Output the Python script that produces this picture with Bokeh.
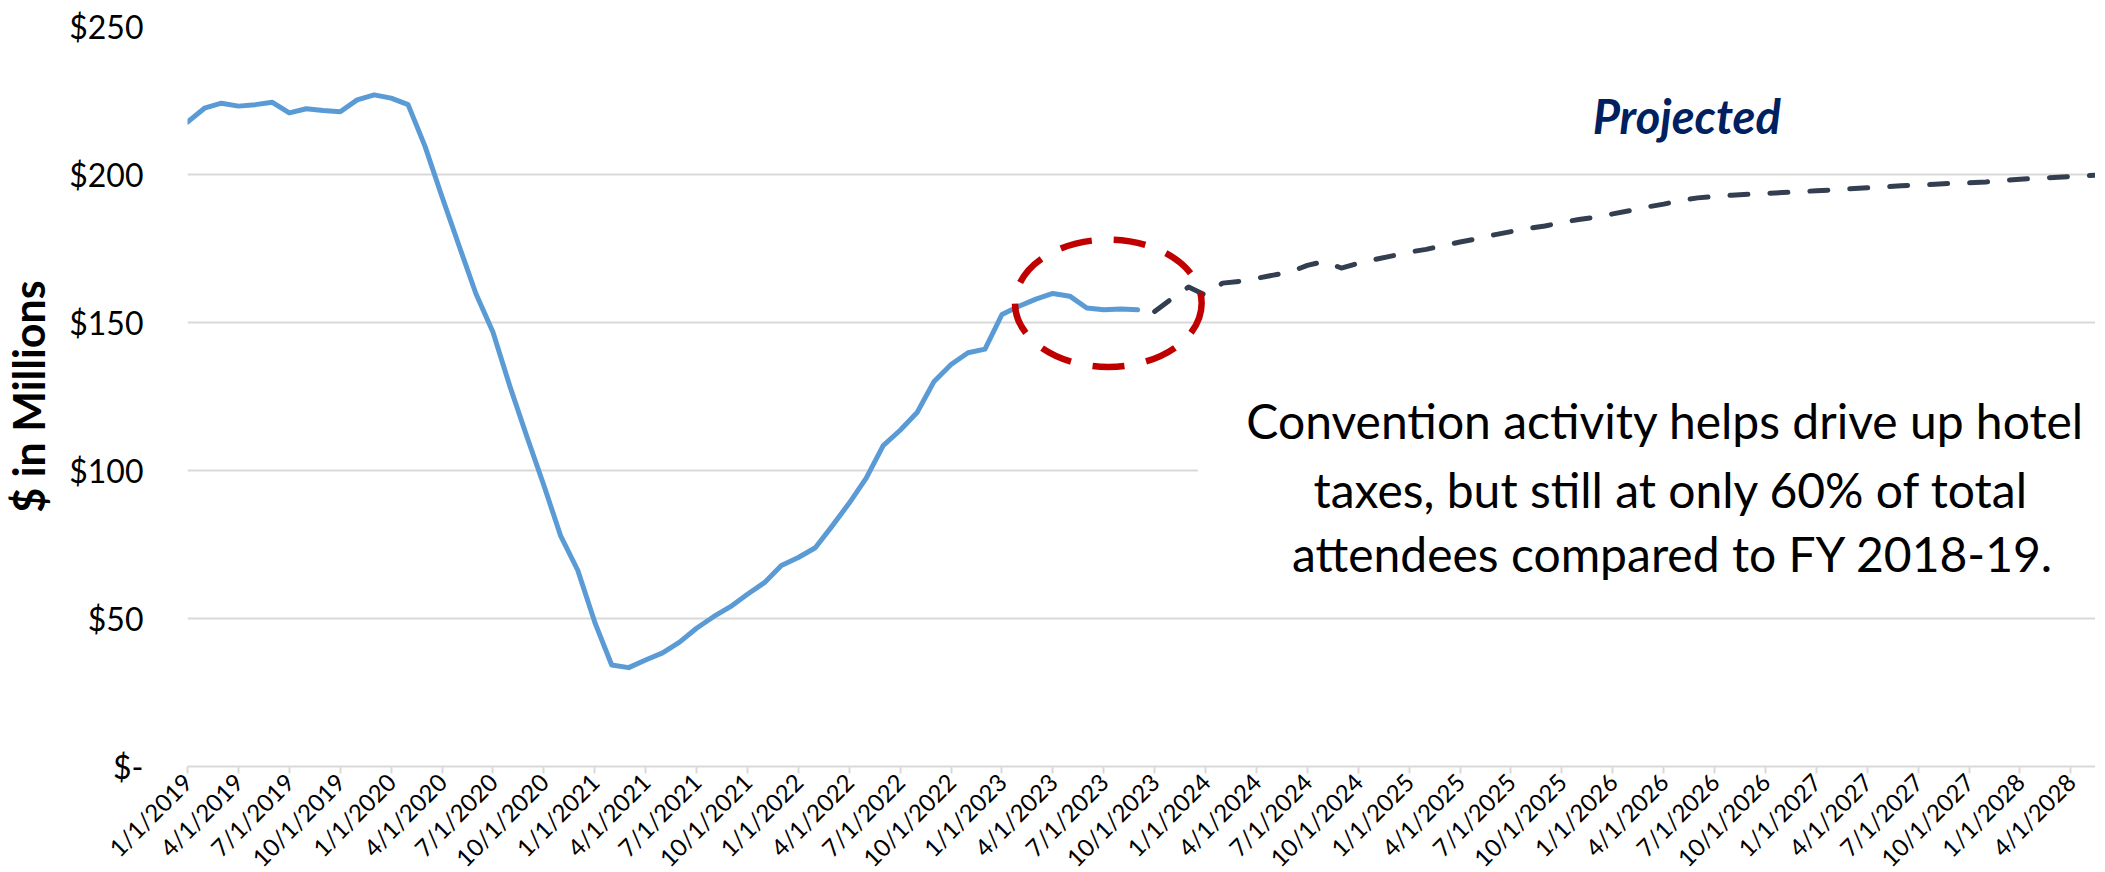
import math
from bokeh.plotting import figure
from bokeh.models import Range1d, FixedTicker, Label
from bokeh.embed import file_html
from bokeh.resources import INLINE

# ---------------- data ----------------
# monthly hotel tax ($ millions), actual: Jan 2019 .. Sep 2023
actual_values = [
    217.7, 222.4, 224.1, 223.1, 223.6, 224.4, 220.8, 222.2, 221.6, 221.2, 225.2, 226.9,
    225.8, 223.6, 209.5, 192.5, 176.0, 159.7, 146.8, 128.5, 111.5, 95.0, 77.8, 66.3,
    48.8, 34.3, 33.4, 36.0, 38.4, 42.0, 46.7, 50.6, 54.0, 58.2, 62.1, 67.9,
    70.6, 73.9, 81.3, 89.0, 97.4, 108.4, 113.6, 119.6, 130.1, 135.8, 139.8, 141.0,
    152.7, 155.5, 157.9, 159.8, 158.9, 154.9, 154.3, 154.6, 154.3,
]
# projected: Oct 2023 .. Jun 2028
projected_values = [
    153.7, 158.0, 162.0, 159.2, 163.3, 163.9, 164.9, 166.0, 167.1, 169.3, 170.6, 168.4,
    170.0, 171.3, 172.5, 173.8, 174.7, 176.0, 177.2, 178.3, 179.6, 180.7, 181.8, 182.6,
    183.8, 184.8, 185.6, 186.7, 187.8, 189.0, 190.0, 191.2, 192.1, 192.6, 193.0, 193.3,
    193.6, 193.9, 194.2, 194.5, 194.8, 195.2, 195.5, 195.8, 196.2, 196.4, 196.7, 197.0,
    197.2, 197.5, 198.0, 198.4, 198.7, 199.0, 199.3, 199.6, 200.0,
]
x_tick_labels = [
    "1/1/2019", "4/1/2019", "7/1/2019", "10/1/2019",
    "1/1/2020", "4/1/2020", "7/1/2020", "10/1/2020",
    "1/1/2021", "4/1/2021", "7/1/2021", "10/1/2021",
    "1/1/2022", "4/1/2022", "7/1/2022", "10/1/2022",
    "1/1/2023", "4/1/2023", "7/1/2023", "10/1/2023",
    "1/1/2024", "4/1/2024", "7/1/2024", "10/1/2024",
    "1/1/2025", "4/1/2025", "7/1/2025", "10/1/2025",
    "1/1/2026", "4/1/2026", "7/1/2026", "10/1/2026",
    "1/1/2027", "4/1/2027", "7/1/2027", "10/1/2027",
    "1/1/2028", "4/1/2028",
]
y_ticks = [0, 50, 100, 150, 200, 250]
y_tick_labels = ["$-", "$50", "$100", "$150", "$200", "$250"]

note_lines = [
    "Convention activity helps drive up hotel",
    "taxes, but still at only 60% of total",
    "attendees compared to FY 2018-19.",
]
projected_label = "Projected"

# ---------------- figure ----------------
actual_x = list(range(len(actual_values)))
proj_x = list(range(len(actual_values), len(actual_values) + len(projected_values)))
x_ticks = [3 * i for i in range(len(x_tick_labels))]

p = figure(
    frame_width=1908, frame_height=740, output_backend="svg", toolbar_location=None,
    x_range=Range1d(0, 112.45), y_range=Range1d(0, 250),
    min_border_left=181, min_border_right=0, min_border_top=26, min_border_bottom=90,
)
p.outline_line_color = None
p.background_fill_color = "white"
p.border_fill_color = "white"

FONT = "Lato"
GRID = "#D9D9D9"

# grid
p.xgrid.grid_line_color = None
p.ygrid.ticker = FixedTicker(ticks=y_ticks)
p.ygrid.grid_line_color = GRID
p.ygrid.grid_line_width = 2

# x axis
p.xaxis.ticker = FixedTicker(ticks=x_ticks)
p.xaxis.major_label_overrides = {t: s for t, s in zip(x_ticks, x_tick_labels)}
p.xaxis.major_label_orientation = math.pi / 4
p.xaxis.axis_line_color = GRID
p.xaxis.axis_line_width = 2
p.xaxis.major_tick_line_color = GRID
p.xaxis.major_tick_line_width = 2
p.xaxis.major_tick_out = 7
p.xaxis.major_tick_in = 0
p.xaxis.minor_tick_line_color = None
p.xaxis.major_label_text_font = FONT
p.xaxis.major_label_text_font_size = "24px"
p.xaxis.major_label_text_color = "black"
p.xaxis.major_label_standoff = 4

# y axis
p.yaxis.ticker = FixedTicker(ticks=y_ticks)
p.yaxis.major_label_overrides = {t: s for t, s in zip(y_ticks, y_tick_labels)}
p.yaxis.axis_line_color = None
p.yaxis.major_tick_line_color = None
p.yaxis.minor_tick_line_color = None
p.yaxis.major_label_text_font = FONT
p.yaxis.major_label_text_font_size = "32px"
p.yaxis.major_label_text_color = "black"
p.yaxis.major_label_standoff = 38
p.yaxis.axis_label = "$ in Millions"
p.yaxis.axis_label_text_font = FONT
p.yaxis.axis_label_text_font_size = "43px"
p.yaxis.axis_label_text_font_style = "bold"
p.yaxis.axis_label_text_color = "black"
p.yaxis.axis_label_standoff = 12

# white text box behind the note (hides the $100 gridline there)
p.quad(left=[59.55], right=[114], bottom=[56], top=[134],
       fill_color="white", line_color=None)

# series
p.line(actual_x, actual_values, line_color="#5B9BD5", line_width=5,
       line_join="round", line_cap="round")
p.line(proj_x, projected_values, line_color="#333F50", line_width=5,
       line_dash="18 22", line_join="round", line_cap="round")

# red dashed highlight ellipse
p.ellipse(x=[54.27], y=[156.5], width=[11.0], height=[43.0],
          fill_color=None, line_color="#C00000", line_width=6.5, line_dash="32 22")

# texts (annotations)
for txt, xx, yy in zip(note_lines, [87.1, 87.45, 87.55], [117.0, 93.7, 71.9]):
    p.add_layout(Label(x=xx, y=yy, text=txt, text_font=FONT, text_font_size="48px",
                       text_color="black", text_align="center",
                       text_baseline="alphabetic"))
p.add_layout(Label(x=88.36, y=219.8, text=projected_label, text_font=FONT,
                   text_font_size="47px", text_font_style="bold italic",
                   text_color="#002060", text_align="center",
                   text_baseline="alphabetic"))

open("out.html", "w").write(file_html(p, INLINE))
